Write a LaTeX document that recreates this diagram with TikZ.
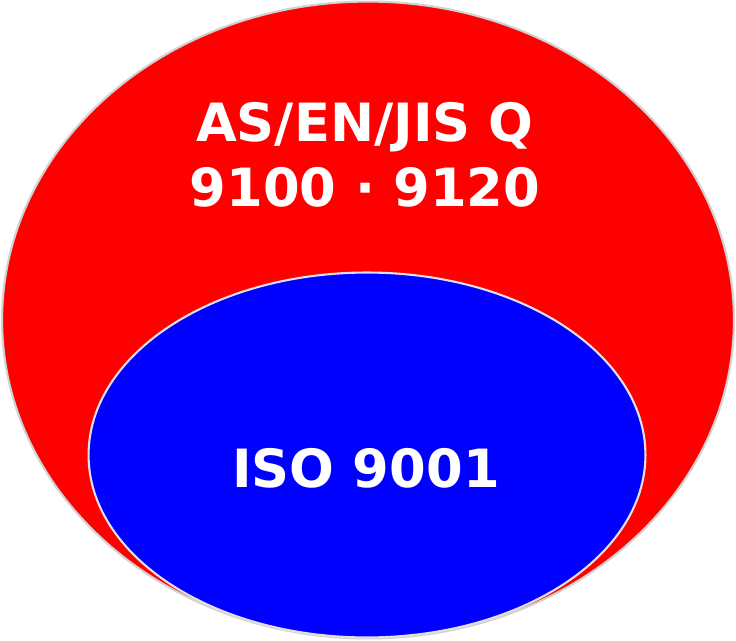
\documentclass[tikz,border=0pt]{standalone}
\usepackage{fontspec}
\setmainfont{DejaVu Sans}
\usetikzlibrary{shapes.geometric}

\begin{document}
\begin{tikzpicture}[x=0.02cm,y=-0.02cm,
  rim/.style={ellipse,draw=black!18,line width=1.2pt,inner sep=0pt},
  label/.style={text=white,font=\bfseries\fontsize{30}{37}\selectfont,align=center}]
\useasboundingbox (0,0) rectangle (736,641);
% outer and inner sets
\node[rim,fill=red,minimum width=732\pgflinewidth*0+14.64cm,minimum height=12.74cm] (as) at (368,320) {};
\node[rim,fill=blue,draw=black!12,minimum width=11.14cm,minimum height=7.3cm] (iso) at (367,455) {};
\node[label] (astext) at (365,155) {AS/EN/JIS Q\\9100 · 9120};
\node[label] (isotext) at (366,468) {ISO 9001};
\end{tikzpicture}
\end{document}
